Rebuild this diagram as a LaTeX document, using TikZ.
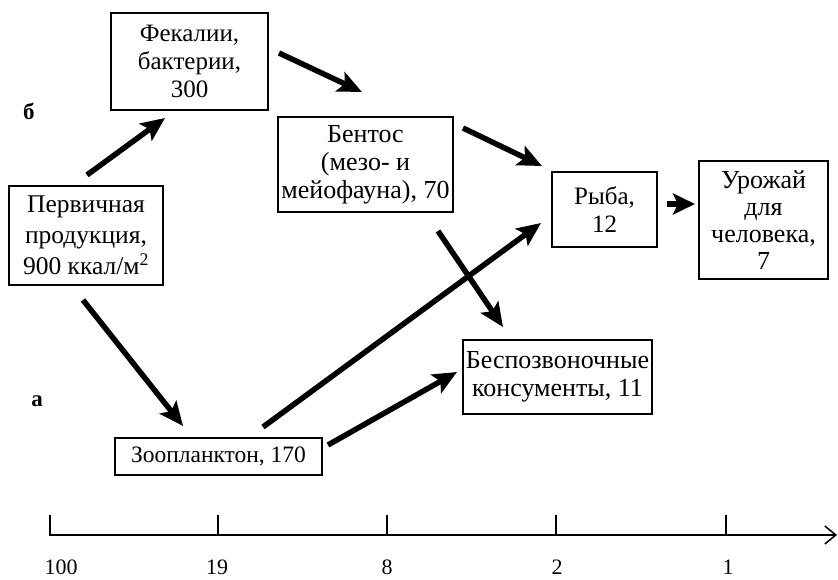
\documentclass[tikz,border=0pt]{standalone}
\usepackage{fontspec}
\setmainfont{Liberation Serif}
\usetikzlibrary{arrows.meta}
\begin{document}
\begin{tikzpicture}[x=1pt,y=-1pt,
  box/.style={draw, line width=1.5pt, inner sep=0pt, align=center},
  fs/.style={font=\fontsize{#1}{28}\selectfont},
  flow/.style={line width=5.5pt, -{Stealth[length=24pt,width=21pt,inset=5pt]}},
  lbl/.style={font=\fontsize{23}{28}\selectfont\bfseries},
  num/.style={font=\fontsize{22}{26}\selectfont, inner sep=0pt, anchor=base}]
\useasboundingbox (0,0) rectangle (838,580);
% boxes
\node[box, fs=25, minimum width=157pt, minimum height=97pt] (fec) at (189.5,61.5) {Фекалии,\\бактерии,\\300};
\node[box, font=\fontsize{25.5}{31}\selectfont, minimum width=154pt, minimum height=99pt] (prim) at (86,235.5) {Первичная\\продукция,\\900 ккал/м\textsuperscript{2}};
\node[box, fs=26, minimum width=175pt, minimum height=95pt] (bent) at (365.5,164.5) {Бентос\\(мезо- и\\мейофауна), 70};
\node[box, fs=25, minimum width=105pt, minimum height=75pt] (fish) at (604.5,209.5) {Рыба,\\12};
\node[box, font=\fontsize{26}{27}\selectfont, minimum width=129pt, minimum height=118pt] (harv) at (763.5,220) {Урожай\\для\\человека,\\7};
\node[box, fs=26, minimum width=189pt, minimum height=74pt] (inv) at (557.5,377) {Беспозвоночные\\консументы, 11};
\node[box, fs=23.5, minimum width=207pt, minimum height=37pt] (zoo) at (218.5,456.5) {Зоопланктон, 170};
% side labels
\node[lbl] (lb) at (29,111) {б};
\node[lbl] (la) at (37,401) {а};
% connector end points
\coordinate (a1s) at (87,175);  \coordinate (a1e) at (165,118);
\coordinate (a2s) at (279,53);  \coordinate (a2e) at (362,92);
\coordinate (a3s) at (463,128); \coordinate (a3e) at (542,166);
\coordinate (a4s) at (667,204); \coordinate (a4e) at (695,204);
\coordinate (a5s) at (83,300);  \coordinate (a5e) at (183,426);
\coordinate (a6s) at (263,427); \coordinate (a6e) at (541,223);
\coordinate (a7s) at (328,445); \coordinate (a7e) at (457,372);
\coordinate (a8s) at (438,231); \coordinate (a8e) at (503,327);
\draw[flow] (a1s) -- (a1e);
\draw[flow] (a2s) -- (a2e);
\draw[flow] (a3s) -- (a3e);
\draw[line width=5.5pt, -{Stealth[length=22pt,width=21pt,inset=5pt]}] (a4s) -- (a4e);
\draw[flow] (a5s) -- (a5e);
\draw[flow] (a6s) -- (a6e);
\draw[flow] (a7s) -- (a7e);
\draw[flow] (a8s) -- (a8e);
% axis
\coordinate (ax0) at (50,515);
\coordinate (ax1) at (50,535);
\coordinate (ax2) at (837,535);
\draw[line width=1.5pt, -{Straight Barb[length=11pt,width=18pt,line width=1.5pt]}] (ax0) -- (ax1) -- (ax2);
\foreach \x/\n in {218/t1, 387/t2, 556/t3, 726/t4} {
  \coordinate (\n a) at (\x,515);
  \coordinate (\n b) at (\x,535);
  \draw[line width=2pt] (\n a) -- (\n b);
}
\node[num] (n100) at (61,574) {100};
\node[num] (n19) at (217,574) {19};
\node[num] (n8) at (387,574) {8};
\node[num] (n2) at (557,574) {2};
\node[num] (n1) at (728,574) {1};
\end{tikzpicture}
\end{document}
